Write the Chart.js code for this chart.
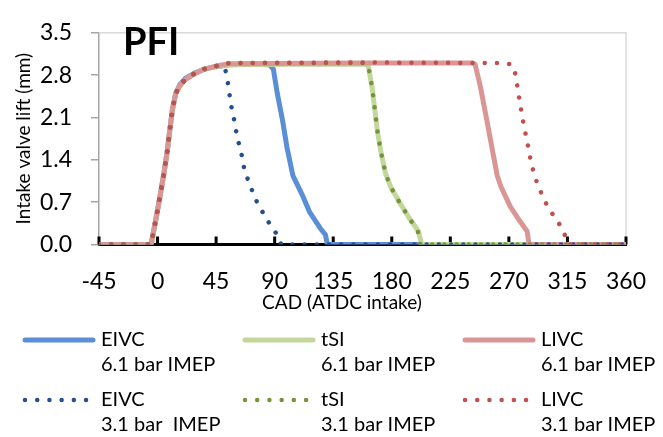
<!DOCTYPE html>
<html>
<head>
<meta charset="utf-8">
<script src="https://cdn.jsdelivr.net/npm/chart.js@4"></script>
<style>
  html, body { margin: 0; padding: 0; background: #fff; }
</style>
</head>
<body>
<canvas id="liftChart" width="663" height="437"></canvas>
<script>
const xTicks = [-45, 0, 45, 90, 135, 180, 225, 270, 315, 360];
const yTicks = [0, 0.7, 1.4, 2.1, 2.8, 3.5];
const cadTitle = "CAD (ATDC intake)";
const liftTitle = "Intake valve lift (mm)";
const panelTag = "PFI";

// intake valve lift profiles, crank angle (deg) vs lift (mm)
const eivcHighCad  = [-45, -5, -4, -1, 2, 5, 7.5, 9.5, 11.5, 14, 17, 21, 28, 36, 45, 55, 70, 86, 89, 92, 96, 99.5, 104, 111, 117, 125, 129, 130.5, 360];
const eivcHighLift = [0, 0, 0.11, 0.45, 0.81, 1.19, 1.55, 1.91, 2.24, 2.5, 2.64, 2.74, 2.83, 2.9, 2.94, 2.97, 2.98, 2.97, 2.9, 2.5, 2.06, 1.6, 1.14, 0.83, 0.53, 0.27, 0.16, 0, 0];

const tsiHighCad  = [-45, -5, -4, -1, 2, 5, 7.5, 9.5, 11.5, 14, 17, 21, 28, 36, 45, 55, 100, 160, 162, 165, 167, 169, 171.5, 175, 179, 185, 193, 200.5, 203, 360];
const tsiHighLift = [0, 0, 0.11, 0.45, 0.81, 1.19, 1.55, 1.91, 2.24, 2.5, 2.62, 2.72, 2.82, 2.9, 2.94, 2.97, 2.98, 2.98, 2.95, 2.58, 2.22, 1.87, 1.55, 1.19, 0.96, 0.73, 0.45, 0.22, 0, 0];

const livcHighCad  = [-45, -5, -4, -1, 2, 5, 7.5, 9.5, 11.5, 14, 17, 21, 28, 36, 45, 55, 150, 242, 244, 248, 253, 257, 261, 264, 271, 278, 284, 285.5, 360];
const livcHighLift = [0, 0, 0.11, 0.45, 0.81, 1.19, 1.55, 1.91, 2.24, 2.5, 2.62, 2.72, 2.82, 2.9, 2.95, 2.99, 3.0, 3.0, 2.98, 2.62, 2.06, 1.6, 1.14, 0.95, 0.63, 0.4, 0.22, 0, 0];

const eivcLowCad  = [-45, -5, -4, -1, 2, 5, 7.5, 9.5, 11.5, 14, 17, 21, 28, 36, 45, 50, 52, 53.5, 55, 56, 58, 59.5, 61, 63, 65, 66.5, 69, 72, 75, 79, 83.5, 88, 92, 95, 360];
const eivcLowLift = [0, 0, 0.11, 0.45, 0.81, 1.19, 1.55, 1.91, 2.24, 2.5, 2.62, 2.72, 2.82, 2.9, 2.95, 2.95, 2.9, 2.74, 2.55, 2.35, 2.16, 1.98, 1.8, 1.62, 1.45, 1.26, 1.1, 0.93, 0.76, 0.6, 0.43, 0.28, 0.16, 0, 0];

const tsiLowCad  = [-45, -5, -4, -1, 2, 5, 7.5, 9.5, 11.5, 14, 17, 21, 28, 36, 45, 55, 100, 160, 162, 165, 167, 169, 171.5, 175, 179, 185, 193, 200, 202, 360];
const tsiLowLift = [0, 0, 0.11, 0.45, 0.81, 1.19, 1.55, 1.91, 2.24, 2.5, 2.62, 2.72, 2.82, 2.9, 2.95, 3.0, 3.0, 3.0, 2.95, 2.58, 2.22, 1.87, 1.55, 1.19, 0.96, 0.73, 0.45, 0.22, 0, 0];

const livcLowCad  = [-45, -5, -4, -1, 2, 5, 7.5, 9.5, 11.5, 14, 17, 21, 28, 36, 45, 55, 150, 263, 272, 275, 276.3, 277.6, 279, 280.2, 282, 283.5, 285.3, 286.6, 288.7, 291.2, 294.3, 298, 302, 307, 311.5, 314.6, 316, 360];
const livcLowLift = [0, 0, 0.11, 0.45, 0.81, 1.19, 1.55, 1.91, 2.24, 2.5, 2.62, 2.72, 2.82, 2.9, 2.95, 3.0, 3.01, 3.0, 2.98, 2.82, 2.64, 2.46, 2.28, 2.11, 1.93, 1.75, 1.57, 1.4, 1.22, 1.05, 0.88, 0.7, 0.55, 0.4, 0.24, 0.07, 0, 0];

const legendLines = [
  ["EIVC", "6.1 bar IMEP"], ["tSI", "6.1 bar IMEP"], ["LIVC", "6.1 bar IMEP"],
  ["EIVC", "3.1 bar  IMEP"], ["tSI", "3.1 bar IMEP"], ["LIVC", "3.1 bar IMEP"]
];

const FONT = 'Lato, "Open Sans", sans-serif';
const DOTS = [0.01, 12.2];

function toPoints(cad, lift) {
  return cad.map((c, i) => ({ x: c, y: lift[i] }));
}

function solid(i, cad, lift, color, order) {
  return {
    label: legendLines[i].join(" "), lines: legendLines[i],
    data: toPoints(cad, lift), borderColor: color, borderWidth: 5,
    borderJoinStyle: "round", pointRadius: 0, tension: 0, order: order, dotted: false
  };
}

function dotted(i, cad, lift, color, order) {
  return {
    label: legendLines[i].join(" "), lines: legendLines[i],
    data: toPoints(cad, lift), borderColor: color, borderWidth: 4.5,
    borderDash: DOTS, borderCapStyle: "round", pointRadius: 0, tension: 0, order: order, dotted: true
  };
}

// plot frame (top + right) and inner tick marks on the x axis
const framePlugin = {
  id: "frame",
  beforeDatasetsDraw(chart) {
    const { ctx, chartArea: a, scales } = chart;
    ctx.save();
    ctx.strokeStyle = "#d9d9d9";
    ctx.lineWidth = 1.5;
    ctx.beginPath();
    ctx.moveTo(a.left, a.top);
    ctx.lineTo(a.right, a.top);
    ctx.lineTo(a.right, a.bottom);
    ctx.stroke();

    ctx.strokeStyle = "#000";
    ctx.lineWidth = 3;
    ctx.beginPath();
    xTicks.forEach(v => {
      const px = scales.x.getPixelForValue(v);
      ctx.moveTo(px, a.bottom);
      ctx.lineTo(px, a.bottom - 8);
    });
    ctx.stroke();
    ctx.restore();
  }
};

// panel tag, x-axis title and the two-row legend
const labelPlugin = {
  id: "labels",
  afterDraw(chart) {
    const { ctx } = chart;
    ctx.save();
    ctx.fillStyle = "#000";
    ctx.textBaseline = "middle";

    ctx.font = "bold 38px " + FONT;
    ctx.textAlign = "left";
    ctx.fillText(panelTag, 123, 43);

    ctx.font = "19px " + FONT;
    ctx.textAlign = "center";
    ctx.fillText(cadTitle, 342, 303);

    ctx.font = "20px " + FONT;
    ctx.textAlign = "left";
    chart.data.datasets.forEach((ds, i) => {
      const col = i % 3, row = Math.floor(i / 3);
      const x0 = 23 + col * 220;
      const y = 340 + row * 60;
      ctx.strokeStyle = ds.borderColor;
      ctx.lineWidth = ds.borderWidth;
      ctx.lineCap = "round";
      ctx.setLineDash(ds.dotted ? DOTS : []);
      ctx.beginPath();
      ctx.moveTo(x0 + 2, y);
      ctx.lineTo(x0 + (ds.dotted ? 64 : 70), y);
      ctx.stroke();
      ctx.fillText(ds.lines[0], x0 + 78, y);
      ctx.fillText(ds.lines[1], x0 + 78, y + 25);
    });
    ctx.restore();
  }
};

const ctx = document.getElementById("liftChart").getContext("2d");

new Chart(ctx, {
  type: "line",
  data: {
    datasets: [
      solid(0, eivcHighCad, eivcHighLift, "#5a8ed6", 6),
      solid(1, tsiHighCad, tsiHighLift, "#c4d79b", 5),
      solid(2, livcHighCad, livcHighLift, "#d99694", 4),
      dotted(3, eivcLowCad, eivcLowLift, "#23508c", 3),
      dotted(4, tsiLowCad, tsiLowLift, "#76933c", 2),
      dotted(5, livcLowCad, livcLowLift, "#c0504d", 1)
    ]
  },
  options: {
    responsive: false,
    animation: false,
    devicePixelRatio: 1,
    layout: {
      autoPadding: false,
      padding: { left: 0, top: 15.7, right: 37, bottom: 122.5 }
    },
    plugins: {
      legend: { display: false },
      tooltip: { enabled: false }
    },
    scales: {
      x: {
        type: "linear",
        min: -45,
        max: 360,
        afterBuildTicks: s => { s.ticks = xTicks.map(v => ({ value: v })); },
        afterFit: s => { s.height = 70; },
        grid: { display: false },
        border: { display: true, color: "#000", width: 3 },
        ticks: { color: "#000", padding: 15, font: { family: FONT, size: 23 }, callback: v => String(v) }
      },
      y: {
        min: 0,
        max: 3.5,
        afterBuildTicks: s => { s.ticks = yTicks.map(v => ({ value: v })); },
        afterFit: s => { s.width = 99; },
        grid: { drawOnChartArea: false, tickLength: 8, color: "#a6a6a6", lineWidth: 1.5 },
        border: { color: "#a6a6a6", width: 1.5 },
        ticks: { color: "#000", padding: 19, font: { family: FONT, size: 23 }, callback: v => v.toFixed(1) },
        title: { display: true, text: liftTitle, color: "#000", font: { family: FONT, size: 19 }, padding: { top: 12 } }
      }
    }
  },
  plugins: [framePlugin, labelPlugin]
});
</script>
</body>
</html>
